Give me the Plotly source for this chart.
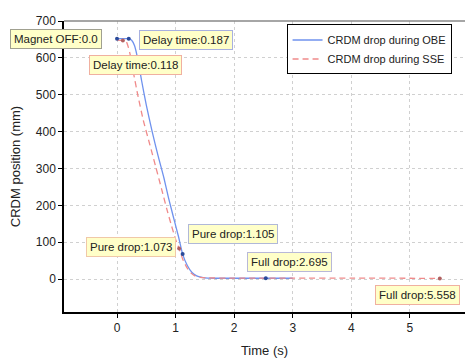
import plotly.graph_objects as go

# OBE (blue solid) curve
obe_t = [0.0, 0.1, 0.2, 0.25, 0.3, 0.36, 0.42, 0.5, 0.6, 0.7, 0.8, 0.88, 0.96, 1.05, 1.12, 1.2, 1.28, 1.36, 1.45, 1.55, 1.8, 2.2, 2.55, 3.0]
obe_y = [652, 652, 652, 648, 633, 592, 538, 472, 400, 335, 275, 220, 170, 115, 68, 37, 18, 9, 5, 3, 2.5, 2.5, 2.5, 2.5]
# SSE (red dashed) curve
sse_t = [0.0, 0.1, 0.16, 0.22, 0.28, 0.36, 0.45, 0.56, 0.66, 0.76, 0.85, 0.93, 1.0, 1.06, 1.12, 1.19, 1.26, 1.33, 1.42, 1.52, 2.0, 3.0, 4.0, 5.0, 5.51]
sse_y = [648, 647, 643, 612, 560, 495, 430, 365, 305, 245, 190, 145, 108, 83, 55, 32, 17, 9, 5, 3.5, 3, 3, 3, 2.5, 2]

# Marked events
obe_pts_t = [0.0, 0.2, 1.12, 2.54]
obe_pts_y = [652, 652, 68, 2.5]
sse_pts_t = [0.1, 1.06, 5.51]
sse_pts_y = [647, 83, 2]

notes = [
    # text, x, y, ax, ay, border color
    ("Magnet OFF:0.0", 0.0, 652, -61, 0, "#a0a090"),
    ("Delay time:0.187", 0.2, 652, 57, 1, "#a8b0e0"),
    ("Delay time:0.118", 0.1, 647, 13, 24, "#f0b0a0"),
    ("Pure drop:1.073", 1.06, 83, -48, -2, "#f0c8a8"),
    ("Pure drop:1.105", 1.12, 68, 50, -20, "#b0b8d8"),
    ("Full drop:2.695", 2.54, 2.5, 24, -16, "#b8b8d8"),
    ("Full drop:5.558", 5.51, 2, -22, 17, "#f0b0a0"),
]

BLUE = "#6f92ee"
RED = "#f08a8a"
FONT = "Liberation Sans, Arial, sans-serif"

fig = go.Figure()
fig.add_trace(go.Scatter(x=obe_t, y=obe_y, mode="lines", line=dict(color=BLUE, width=1.3, shape="spline", smoothing=0.6),
                         name="CRDM drop during OBE"))
fig.add_trace(go.Scatter(x=sse_t, y=sse_y, mode="lines", line=dict(color=RED, width=1.3, dash="6px,4px", shape="spline", smoothing=0.6),
                         name="CRDM drop during SSE"))
fig.add_trace(go.Scatter(x=obe_pts_t, y=obe_pts_y, mode="markers", marker=dict(color="#2a4a9a", size=4), showlegend=False))
fig.add_trace(go.Scatter(x=sse_pts_t, y=sse_pts_y, mode="markers", marker=dict(color="#b06060", size=4), showlegend=False))

for text, x, y, ax, ay, bc in notes:
    fig.add_annotation(x=x, y=y, text=text, showarrow=True, ax=ax, ay=ay, arrowcolor="rgba(0,0,0,0)",
                       bgcolor="#ffffc8", bordercolor=bc, borderwidth=1, borderpad=3,
                       font=dict(family=FONT, size=11.5, color="#222"))

fig.add_shape(type="line", xref="paper", yref="paper", x0=0, x1=1, y0=1, y1=1, line=dict(color="#888", width=1.5))

fig.update_layout(
    width=465, height=358,
    margin=dict(l=64, r=0, t=21, b=46),
    paper_bgcolor="white", plot_bgcolor="white",
    font=dict(family=FONT, size=12, color="#222"),
    showlegend=True,
    legend=dict(x=0.555, y=0.988, xanchor="left", yanchor="top", bordercolor="black", borderwidth=1,
                bgcolor="white", font=dict(size=11, family=FONT, color="#222"), tracegroupgap=0),
    xaxis=dict(range=[-0.905, 5.94], tick0=0, dtick=1, showline=True, linecolor="black", linewidth=1.5,
               ticks="outside", ticklen=4, tickcolor="black", showgrid=True, gridcolor="#d0d0d0", griddash="dot",
               gridwidth=1, zeroline=False, automargin=False,
               title=dict(text="Time (s)", font=dict(size=13), standoff=12)),
    yaxis=dict(range=[-89, 700], tick0=0, dtick=100, showline=True, linecolor="black", linewidth=1.5,
               ticks="outside", ticklen=4, tickcolor="black", showgrid=True, gridcolor="#d0d0d0", griddash="dot",
               gridwidth=1, zeroline=False, automargin=False,
               title=dict(text="CRDM position (mm)", font=dict(size=13), standoff=12)),
)

fig.write_html("out.html", config={"displayModeBar": False},
               post_script="document.body.style.margin='0';")
